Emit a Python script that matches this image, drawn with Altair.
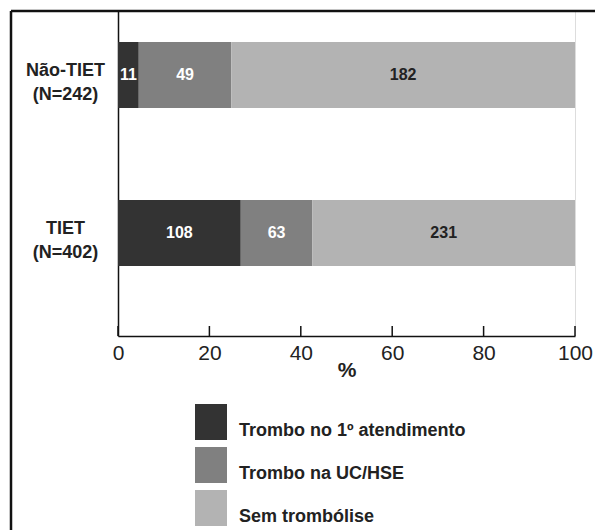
import altair as alt
import pandas as pd

groups = ["Não-TIET\n(N=242)", "TIET\n(N=402)"]
categories = ["Trombo no 1º atendimento", "Trombo na UC/HSE", "Sem trombólise"]
nao_tiet = [11, 49, 182]
tiet = [108, 63, 231]
x_ticks = [0, 20, 40, 60, 80, 100]
colors = ["#333333", "#808080", "#b3b3b3"]

rows = []
for g, vals in zip(groups, [nao_tiet, tiet]):
    for i, (c, v) in enumerate(zip(categories, vals)):
        rows.append({"group": g, "cat": c, "idx": i, "n": v})
df = pd.DataFrame(rows)

yscale = alt.Scale(paddingInner=0.582, paddingOuter=0.32, align=0.307)
yenc = alt.Y(
    "group:N",
    sort=groups,
    scale=yscale,
    axis=alt.Axis(
        title=None, ticks=False, domainColor="#111", domainWidth=1.5,
        labelAlign="center", labelPadding=53, labelFontSize=18,
        labelFontWeight="bold", labelColor="#222", labelLineHeight=24,
        labelOffset=-4, labelExpr="split(datum.label, '\\n')",
    ),
)
xenc_kwargs = dict(
    scale=alt.Scale(domain=[0, 100], nice=False),
    axis=alt.Axis(
        title="%", values=x_ticks, ticks=False, grid=False, domainColor="#111",
        domainWidth=1.5, labelFontSize=21, labelColor="#222", labelPadding=6,
        labelFlush=False,
        titleFontSize=21, titleFontWeight="bold", titleColor="#222", titlePadding=-4,
    ),
)

base = alt.Chart(df).transform_joinaggregate(
    total="sum(n)", groupby=["group"]
).transform_calculate(
    pct="100*datum.n/datum.total"
).transform_window(
    cum="sum(pct)", groupby=["group"], sort=[alt.SortField("idx")], frame=[None, 0]
).transform_calculate(
    start="datum.cum - datum.pct", mid="datum.cum - datum.pct/2"
)

bars = base.mark_bar().encode(
    x=alt.X("start:Q", **xenc_kwargs),
    x2="cum:Q",
    y=yenc,
    color=alt.Color(
        "cat:N",
        scale=alt.Scale(domain=categories, range=colors),
        legend=alt.Legend(
            orient="none", legendX=77, legendY=395, title=None,
            symbolType="M-1,-1.125H1V1.125H-1Z", symbolSize=1024,
            symbolStrokeWidth=0, symbolOpacity=1, labelFontSize=18,
            labelFontWeight="bold", labelColor="#222", labelBaseline="top",
            rowPadding=7, labelOffset=12, padding=0, labelLimit=0,
        ),
    ),
)

text = base.mark_text(fontSize=16, fontWeight="bold").encode(
    x=alt.X("mid:Q"),
    y=alt.Y("group:N", sort=groups),
    text="n:Q",
    color=alt.condition("datum.idx < 2", alt.value("white"), alt.value("#222")),
)

ticks = alt.Chart(pd.DataFrame({"t": x_ticks})).mark_rule(
    color="#111", strokeWidth=1.5
).encode(x="t:Q", y=alt.value(315), y2=alt.value(325))

border_left = alt.Chart(pd.DataFrame({"a": [0]})).mark_rule(
    color="#111", strokeWidth=2.5
).encode(x=alt.value(-107), y=alt.value(0), y2=alt.value(530))
border_top = alt.Chart(pd.DataFrame({"a": [0]})).mark_rule(
    color="#111", strokeWidth=2.5
).encode(x=alt.value(-107), x2=alt.value(480), y=alt.value(0))

chart = alt.layer(bars, text, ticks, border_left, border_top).properties(
    width=457,
    height=325,
    padding={"left": 118, "top": 11, "right": 20, "bottom": 194},
    autosize=alt.AutoSizeParams(type="none"),
).configure_view(stroke=None).configure(font="Liberation Sans")

chart.save("out.html", embed_options={"renderer": "svg", "actions": False})
